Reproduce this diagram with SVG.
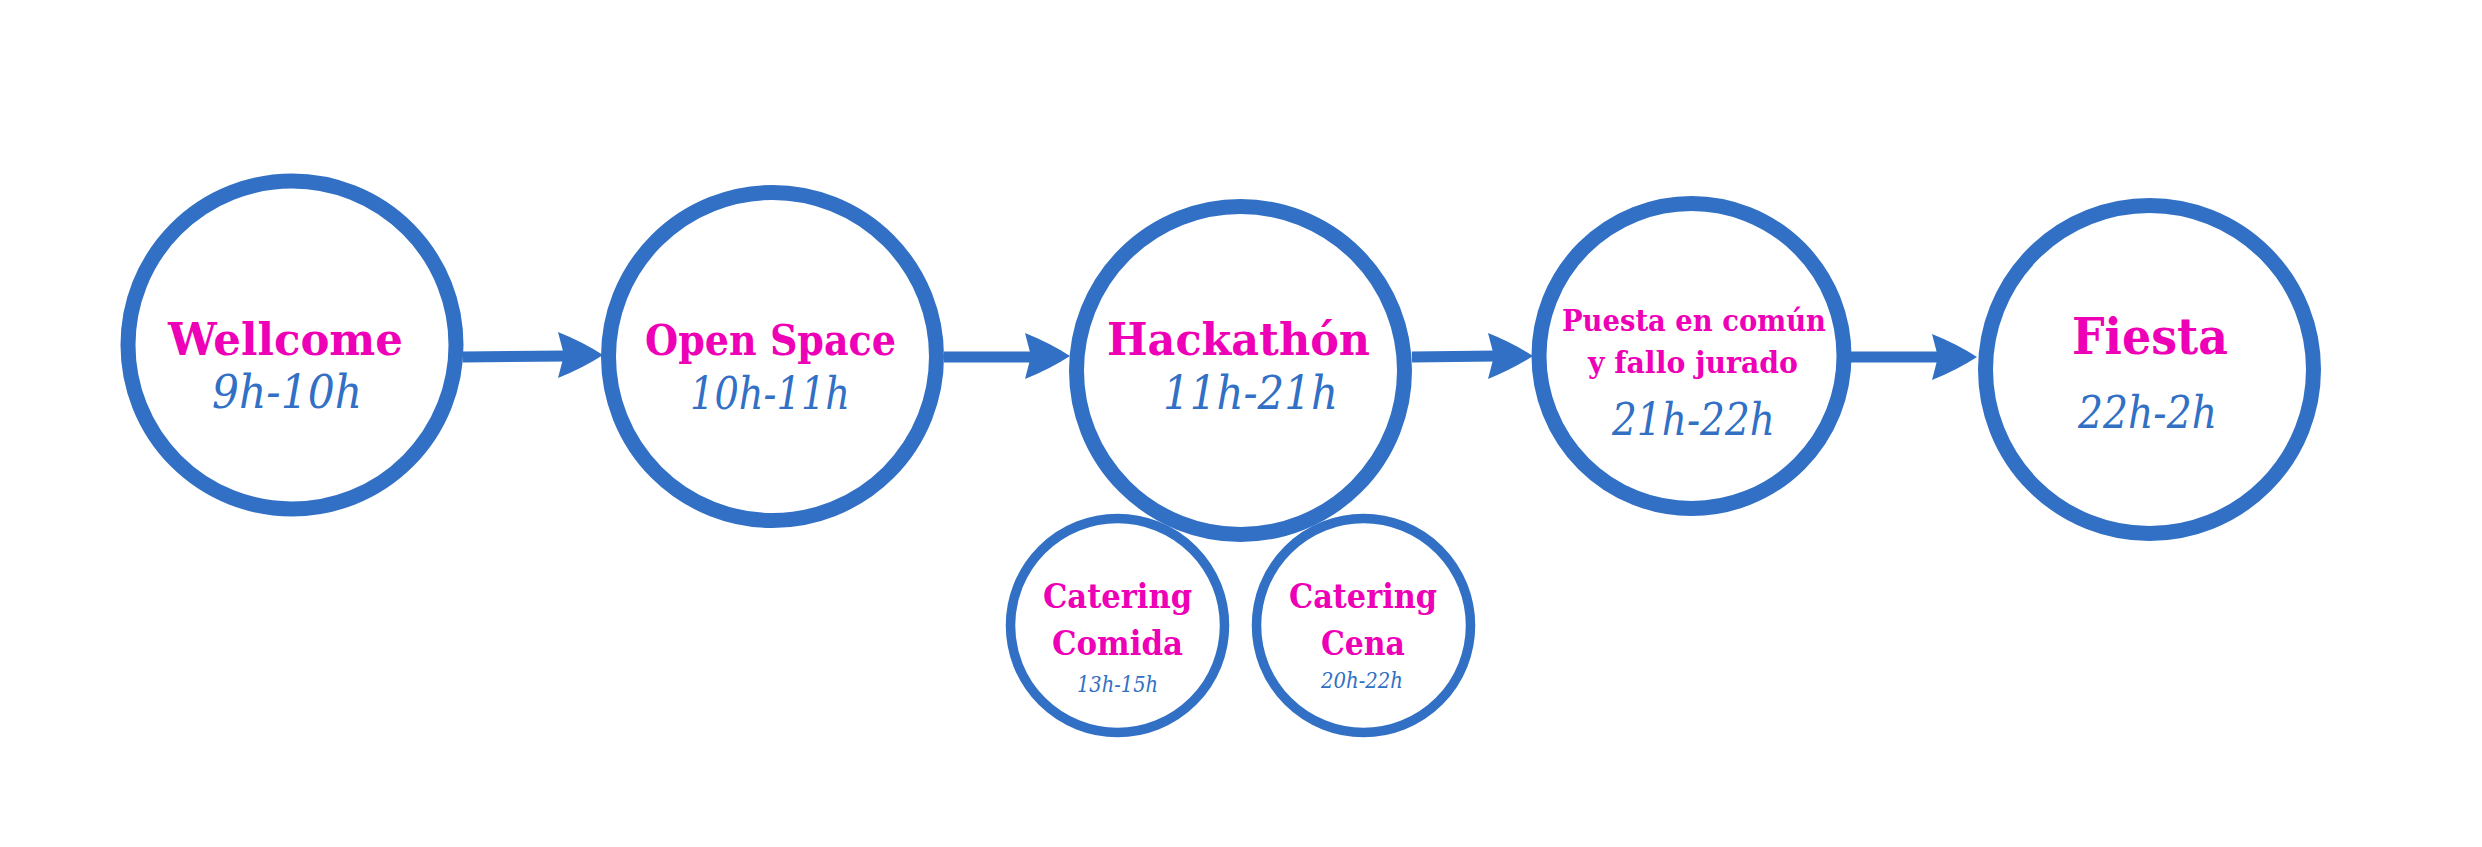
<svg xmlns="http://www.w3.org/2000/svg" xmlns:xlink="http://www.w3.org/1999/xlink" width="2482" height="847" viewBox="0 0 2482 847">
  <style>
    .ring { fill: none; stroke: #3170C4; stroke-width: 15; }
    .ring-sm { fill: none; stroke: #3170C4; stroke-width: 9.5; }
    .title { font-family: "DejaVu Serif", "Liberation Serif", serif; font-weight: bold; fill: #EE00B6; text-anchor: middle; }
    .time { font-family: "DejaVu Serif", "Liberation Serif", serif; font-style: italic; fill: #3170C4; text-anchor: middle; }
    .link { stroke: #3170C4; stroke-width: 11; fill: none; }
    .head { fill: #3170C4; }
  </style>
  <defs>
    <!-- concave arrowhead, tip at origin, pointing right -->
    <path id="arrowhead" class="head" d="M0,0 Q-20,-13 -45,-23 L-39,0 L-45,23 Q-20,13 0,0 Z"/>
  </defs>

  <rect width="2482" height="847" fill="#FFFFFF"/>

  <g id="connectors">
    <line class="link" x1="463" y1="357" x2="566" y2="356"/>
    <use xlink:href="#arrowhead" href="#arrowhead" transform="translate(603,355)"/>
    <line class="link" x1="944" y1="357" x2="1033" y2="357"/>
    <use xlink:href="#arrowhead" href="#arrowhead" transform="translate(1070,356)"/>
    <line class="link" x1="1412" y1="357" x2="1496" y2="356"/>
    <use xlink:href="#arrowhead" href="#arrowhead" transform="translate(1533,356)"/>
    <line class="link" x1="1851" y1="357" x2="1940" y2="357"/>
    <use xlink:href="#arrowhead" href="#arrowhead" transform="translate(1977,357)"/>
  </g>

  <g id="node-wellcome">
    <circle class="ring" cx="292" cy="345" r="164"/>
    <text class="title" x="285.5" y="355" font-size="45" textLength="235" lengthAdjust="spacingAndGlyphs">Wellcome</text>
    <text class="time" x="287" y="408" font-size="47" textLength="150" lengthAdjust="spacingAndGlyphs">9h-10h</text>
  </g>

  <g id="node-open-space">
    <circle class="ring" cx="772.5" cy="356.5" r="164"/>
    <text class="title" x="770.5" y="355" font-size="43" textLength="251" lengthAdjust="spacingAndGlyphs">Open Space</text>
    <text class="time" x="770" y="409" font-size="44" textLength="160" lengthAdjust="spacingAndGlyphs">10h-11h</text>
  </g>

  <g id="node-hackathon">
    <circle class="ring" cx="1240.5" cy="370.5" r="164"/>
    <text class="title" x="1238.5" y="355" font-size="45" textLength="263" lengthAdjust="spacingAndGlyphs">Hackathón</text>
    <text class="time" x="1250.5" y="409" font-size="46" textLength="175" lengthAdjust="spacingAndGlyphs">11h-21h</text>
  </g>

  <g id="node-catering-comida">
    <circle class="ring-sm" cx="1117.5" cy="625.5" r="107"/>
    <text class="title" x="1117.5" y="608" font-size="34" textLength="149" lengthAdjust="spacingAndGlyphs">Catering</text>
    <text class="title" x="1117.5" y="655" font-size="34" textLength="131" lengthAdjust="spacingAndGlyphs">Comida</text>
    <text class="time" x="1117.5" y="692" font-size="23" textLength="81" lengthAdjust="spacingAndGlyphs">13h-15h</text>
  </g>

  <g id="node-catering-cena">
    <circle class="ring-sm" cx="1363.5" cy="625.5" r="107"/>
    <text class="title" x="1363" y="608" font-size="34" textLength="148" lengthAdjust="spacingAndGlyphs">Catering</text>
    <text class="title" x="1363" y="655" font-size="34" textLength="84" lengthAdjust="spacingAndGlyphs">Cena</text>
    <text class="time" x="1362" y="688" font-size="23" textLength="82" lengthAdjust="spacingAndGlyphs">20h-22h</text>
  </g>

  <g id="node-puesta">
    <circle class="ring" cx="1691.5" cy="356" r="152.5"/>
    <text class="title" x="1694" y="331" font-size="29" textLength="264" lengthAdjust="spacingAndGlyphs">Puesta en común</text>
    <text class="title" x="1693" y="373" font-size="29" textLength="210" lengthAdjust="spacingAndGlyphs">y fallo jurado</text>
    <text class="time" x="1693.5" y="435" font-size="45" textLength="163" lengthAdjust="spacingAndGlyphs">21h-22h</text>
  </g>

  <g id="node-fiesta">
    <circle class="ring" cx="2149.5" cy="369.5" r="164"/>
    <text class="title" x="2150" y="354" font-size="50" textLength="156" lengthAdjust="spacingAndGlyphs">Fiesta</text>
    <text class="time" x="2147.5" y="428" font-size="44" textLength="139" lengthAdjust="spacingAndGlyphs">22h-2h</text>
  </g>
</svg>
